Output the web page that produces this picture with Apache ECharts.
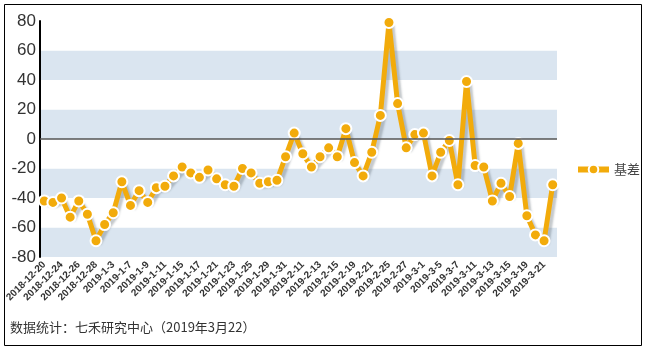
<!DOCTYPE html>
<html lang="zh-CN" style="height: 100%">
<head>
  <meta charset="UTF-8" />
  <title>基差</title>
  <script src="https://cdn.jsdelivr.net/npm/echarts@6/dist/echarts.min.js"></script>
</head>
<body style="height: 100%; margin: 0">
  <div id="container" style="width: 648px; height: 352px"></div>
  <script type="text/javascript">
    // 交易日
    var dates = [
      "2018-12-20", "2018-12-21", "2018-12-24", "2018-12-25", "2018-12-26", "2018-12-27", "2018-12-28",
      "2019-1-2", "2019-1-3", "2019-1-4", "2019-1-7", "2019-1-8", "2019-1-9", "2019-1-10", "2019-1-11",
      "2019-1-14", "2019-1-15", "2019-1-16", "2019-1-17", "2019-1-18", "2019-1-21", "2019-1-22", "2019-1-23",
      "2019-1-24", "2019-1-25", "2019-1-28", "2019-1-29", "2019-1-30", "2019-1-31", "2019-2-1",
      "2019-2-11", "2019-2-12", "2019-2-13", "2019-2-14", "2019-2-15", "2019-2-18", "2019-2-19", "2019-2-20",
      "2019-2-21", "2019-2-22", "2019-2-25", "2019-2-26", "2019-2-27", "2019-2-28",
      "2019-3-1", "2019-3-4", "2019-3-5", "2019-3-6", "2019-3-7", "2019-3-8", "2019-3-11", "2019-3-12",
      "2019-3-13", "2019-3-14", "2019-3-15", "2019-3-18", "2019-3-19", "2019-3-20", "2019-3-21", "2019-3-22"
    ];
    // 基差
    var basis = [
      -42, -43, -40, -53, -42, -51, -69, -58, -50, -29,
      -45, -35, -43, -33, -32, -25, -19, -23, -26, -21,
      -27, -31, -32, -20, -23, -30, -29, -28, -12, 4,
      -10, -19, -12, -6, -12, 7, -16, -25, -9, 16,
      79, 24, -6, 3, 4, -25, -9, -1, -31, 39,
      -18, -19, -42, -30, -39, -3, -52, -65, -69, -31
    ];
    var seriesName = "基差";
    var note = "数据统计：七禾研究中心（2019年3月22）";

    var dom = document.getElementById("container");
    var myChart = echarts.init(dom, null, { renderer: "canvas" });

    var option = {
      backgroundColor: "#fff",
      animation: false,
      grid: { left: 40, right: 91, top: 21, bottom: 95 },
      legend: {
        orient: "vertical",
        left: 570,
        top: 158,
        itemWidth: 31,
        itemHeight: 12,
        itemGap: 6,
        lineStyle: { width: 6 },
        textStyle: { fontSize: 13, color: "#444", fontFamily: "Noto Sans CJK SC" },
        data: [seriesName]
      },
      graphic: [
        {
          type: "rect",
          shape: { x: 4.5, y: 4.5, width: 637, height: 341 },
          style: { fill: "none", stroke: "#000", lineWidth: 1 },
          silent: true
        },
        {
          type: "text",
          left: 10,
          top: 321,
          style: {
            text: note,
            fontSize: 13,
            fill: "#333",
            fontFamily: "Noto Sans CJK SC"
          }
        }
      ],
      xAxis: {
        type: "category",
        data: dates,
        boundaryGap: true,
        axisLine: { show: false },
        axisTick: { show: false },
        axisLabel: {
          interval: 1,
          rotate: 45,
          margin: 6,
          fontSize: 10,
          fontWeight: "bold",
          color: "#333",
          fontFamily: "Liberation Sans"
        }
      },
      yAxis: {
        type: "value",
        min: -80,
        max: 80,
        interval: 20,
        axisLine: { show: true, lineStyle: { color: "#000", width: 2 } },
        axisTick: { show: false },
        axisLabel: { fontSize: 17, color: "#333", margin: 4, fontFamily: "Liberation Sans" },
        splitLine: { show: false },
        splitArea: {
          show: true,
          areaStyle: { color: ["#dae5f0", "#ffffff"] }
        }
      },
      series: [
        {
          name: seriesName,
          type: "line",
          data: basis,
          symbol: "circle",
          symbolSize: 11,
          showAllSymbol: true,
          itemStyle: { color: "#f2ab0b", borderColor: "#fff", borderWidth: 2 },
          lineStyle: {
            color: "#f2ab0b",
            width: 5,
            shadowColor: "rgba(90,100,110,0.35)",
            shadowBlur: 2,
            shadowOffsetX: 3,
            shadowOffsetY: 3
          },
          markLine: {
            silent: true,
            symbol: "none",
            label: { show: false },
            lineStyle: { color: "#555", width: 1.5, type: "solid" },
            data: [{ yAxis: 0 }]
          },
          z: 3
        }
      ]
    };
    myChart.setOption(option);
    window.addEventListener("resize", myChart.resize);
  </script>
</body>
</html>
